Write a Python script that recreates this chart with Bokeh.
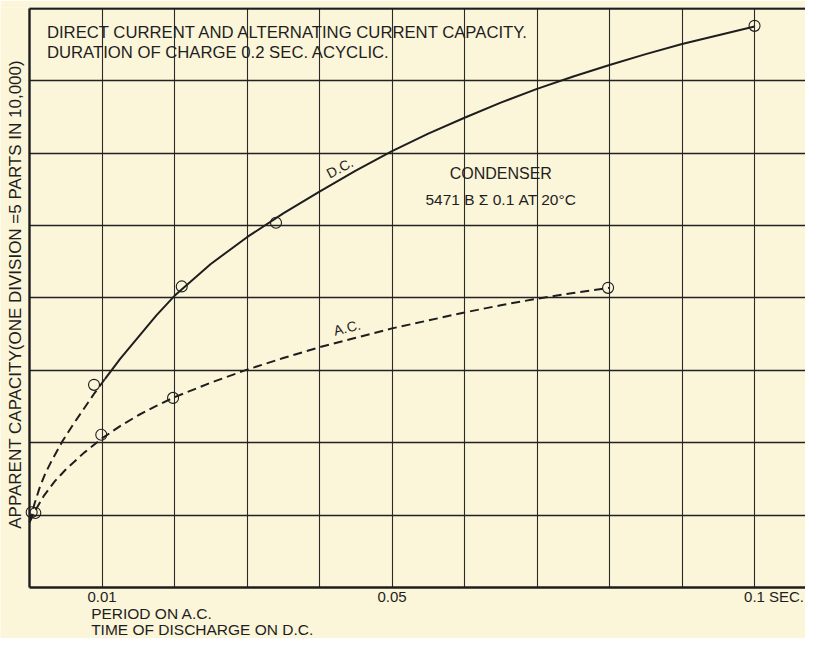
import math
from bokeh.plotting import figure
from bokeh.models import FixedTicker, Label, Grid
from bokeh.embed import file_html
from bokeh.resources import INLINE

# ---- data (x in seconds, y in divisions) ----
dc_dash_x = [0.0, 0.0007, 0.0014, 0.0022, 0.0031, 0.0046, 0.0060, 0.0075, 0.0090, 0.0104]
dc_dash_y = [0.90, 1.16, 1.38, 1.58, 1.76, 2.03, 2.25, 2.47, 2.69, 2.88]
dc_solid_x = [0.0104, 0.0125, 0.015, 0.0175, 0.020, 0.025, 0.030, 0.035, 0.040,
              0.045, 0.050, 0.055, 0.060, 0.065, 0.070, 0.075, 0.080, 0.085,
              0.090, 0.095, 0.100]
dc_solid_y = [2.88, 3.16, 3.46, 3.76, 4.03, 4.47, 4.84, 5.17, 5.47,
              5.76, 6.03, 6.27, 6.49, 6.70, 6.89, 7.06, 7.22, 7.37,
              7.51, 7.63, 7.75]
ac_x = [0.0, 0.001, 0.002, 0.0035, 0.005, 0.0075, 0.010, 0.0125, 0.015, 0.0175,
        0.020, 0.025, 0.030, 0.035, 0.040, 0.045, 0.050, 0.055, 0.060, 0.065,
        0.070, 0.075, 0.080]
ac_y = [0.90, 1.10, 1.27, 1.47, 1.63, 1.86, 2.06, 2.23, 2.38, 2.51,
        2.63, 2.83, 3.01, 3.17, 3.32, 3.45, 3.58, 3.69, 3.80, 3.90,
        3.99, 4.07, 4.14]

dc_pts_x = [0.0003, 0.0089, 0.0210, 0.0340, 0.1000]
dc_pts_y = [1.04, 2.80, 4.16, 5.04, 7.76]
ac_pts_x = [0.0008, 0.0099, 0.0198, 0.0798]
ac_pts_y = [1.03, 2.11, 2.62, 4.14]

x_tick_values = [0.01, 0.05, 0.1, 0.1044]
x_tick_labels = ["0.01", "0.05", "0.1", "SEC."]
x_grid_values = [0.01, 0.02, 0.03, 0.04, 0.05, 0.06, 0.07, 0.08, 0.09, 0.10]
y_grid_values = [1, 2, 3, 4, 5, 6, 7]
y_top = 8.0

title_lines = ["DIRECT CURRENT AND ALTERNATING CURRENT CAPACITY.",
               "DURATION OF CHARGE 0.2 SEC. ACYCLIC."]
y_label_text = "APPARENT CAPACITY(ONE DIVISION =5 PARTS IN 10,000)"
x_label_lines = ["PERIOD ON A.C.", "TIME OF DISCHARGE ON D.C."]

BG = "#fbf5d9"
INK = "#1e1e1e"
FONT = "Liberation Sans"

X0, X1 = -0.0040, 0.10703
Y0, Y1 = -0.7047, 8.0138

p = figure(width=805, height=638, output_backend="svg", toolbar_location=None,
           x_range=(X0, X1), y_range=(Y0, Y1),
           min_border_left=0, min_border_right=0, min_border_top=7,
           min_border_bottom=0)
p.background_fill_color = BG
p.border_fill_color = BG
p.outline_line_color = None

# x axis drawn at y = 0 inside the frame
p.xaxis.fixed_location = 0
p.xaxis.bounds = (0, X1)
p.xaxis.ticker = FixedTicker(ticks=x_tick_values)
p.xaxis.major_label_overrides = {v: s for v, s in zip(x_tick_values, x_tick_labels)}
p.xaxis.major_tick_in = 0
p.xaxis.major_tick_out = 0
p.xaxis.minor_tick_in = 0
p.xaxis.minor_tick_out = 0
p.xaxis.axis_line_width = 2.4
p.xaxis.axis_line_color = INK
p.xaxis.major_label_standoff = 1
p.xaxis.major_label_text_font = FONT
p.xaxis.major_label_text_font_size = "15px"
p.xaxis.major_label_text_color = INK

# y axis drawn at x = 0 inside the frame
p.yaxis.fixed_location = 0
p.yaxis.bounds = (0, y_top)
p.yaxis.ticker = FixedTicker(ticks=[])
p.yaxis.minor_tick_in = 0
p.yaxis.minor_tick_out = 0
p.yaxis.major_tick_in = 0
p.yaxis.major_tick_out = 0
p.yaxis.axis_line_width = 2.4
p.yaxis.axis_line_color = INK

# grid
GRID_V = "#2a2a2a"
GRID_H = "#222222"
p.xgrid.ticker = FixedTicker(ticks=x_grid_values)
p.ygrid.ticker = FixedTicker(ticks=y_grid_values)
if "cross_bounds" in Grid.properties():
    p.xgrid.cross_bounds = (0, y_top)
    p.xgrid.grid_line_color = GRID_V
    p.xgrid.grid_line_width = 1.1
    p.ygrid.cross_bounds = (0, X1)
    p.ygrid.grid_line_color = GRID_H
    p.ygrid.grid_line_width = 1.6
else:
    p.xgrid.visible = False
    p.ygrid.visible = False
    n = len(x_grid_values)
    p.segment(x0=x_grid_values, y0=[0] * n, x1=x_grid_values, y1=[y_top] * n,
              line_color=GRID_V, line_width=1.1, level="underlay")
    m = len(y_grid_values)
    p.segment(x0=[0] * m, y0=y_grid_values, x1=[X1] * m, y1=y_grid_values,
              line_color=GRID_H, line_width=1.6, level="underlay")

# top border of the chart
p.segment(x0=[0], y0=[y_top], x1=[X1], y1=[y_top], line_color=INK, line_width=2.6)

# curves
p.line(dc_dash_x, dc_dash_y, line_color=INK, line_width=2.0, line_dash="9 5")
p.line(dc_solid_x, dc_solid_y, line_color=INK, line_width=2.0)
p.line(ac_x, ac_y, line_color=INK, line_width=2.0, line_dash="9 5")

# observation circles
p.scatter(dc_pts_x, dc_pts_y, marker="circle", size=11, fill_color=None,
          line_color=INK, line_width=1.1)
p.scatter(ac_pts_x, ac_pts_y, marker="circle", size=11, fill_color=None,
          line_color=INK, line_width=1.1)

def lab(x, y, text, size="16px", align="left", angle=0.0):
    p.add_layout(Label(x=x, y=y, text=text, text_font=FONT, text_font_size=size,
                       text_color=INK, text_align=align, text_baseline="middle",
                       angle=angle))

# titles inside plot
lab(0.0024, 7.67, title_lines[0], size="16.7px")
lab(0.0024, 7.39, title_lines[1], size="16.7px")

# curve labels
lab(0.0428, 5.80, "D.C.", size="14px", align="center", angle=math.radians(28))
lab(0.0438, 3.59, "A.C.", size="14px", align="center", angle=math.radians(14))

# condenser note
lab(0.0650, 5.72, "CONDENSER", size="16px", align="center")
lab(0.0650, 5.36, "5471 B \u03a3 0.1 AT 20\u00b0C", size="15.5px", align="center")

# vertical axis title
lab(-0.00193, 4.05, y_label_text, size="17px", align="center", angle=math.pi / 2)

# lines under the axis
lab(0.0085, -0.36, x_label_lines[0], size="15.5px")
lab(0.0085, -0.585, x_label_lines[1], size="15.5px")

open("out.html", "w").write(file_html(p, INLINE))
